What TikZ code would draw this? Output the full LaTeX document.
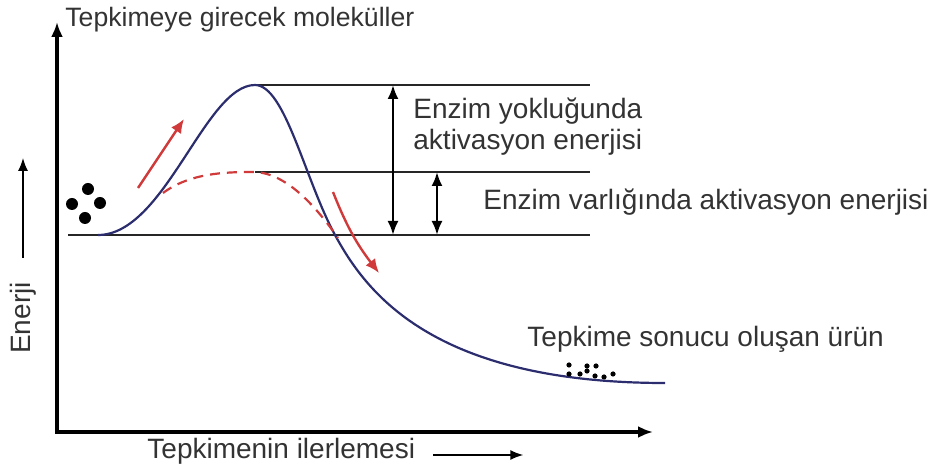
\documentclass[tikz,border=0pt]{standalone}
\usepackage{fontspec}
\setmainfont{Liberation Sans}
\usetikzlibrary{arrows.meta,positioning,calc}

\definecolor{curveblue}{HTML}{2B2D6E}
\definecolor{arrowred}{HTML}{D03A3A}
\definecolor{textgray}{HTML}{333333}

\begin{document}
\begin{tikzpicture}[
    x=0.5pt,
    y=0.5pt,
    axis/.style={
        line width=1.75pt,
        {Latex[length=7.5pt,width=6pt]}-{Latex[length=7.5pt,width=6pt]}
    },
    hint/.style={
        line width=1pt,
        -{Latex[length=6.5pt,width=5pt]}
    },
    level/.style={
        line width=1pt,
        draw=black!85
    },
    energy/.style={
        line width=1.1pt,
        draw=curveblue
    },
    catalysed/.style={
        line width=1.1pt,
        draw=arrowred,
        dash pattern=on 5pt off 3.5pt
    },
    redarrow/.style={
        line width=1.2pt,
        draw=arrowred,
        -{Latex[length=7pt,width=6pt]}
    },
    gap/.style={
        line width=1.2pt,
        {Latex[length=7pt,width=5.5pt]}-{Latex[length=7pt,width=5.5pt]}
    },
    caption/.style={
        anchor=base west,
        inner sep=0pt,
        text=textgray,
        align=left,
        font=\fontsize{14}{15.5}\selectfont
    },
    molecule/.style={
        circle,
        fill=black,
        inner sep=0pt,
        minimum size=6pt
    },
    product/.style={
        circle,
        fill=black,
        inner sep=0pt,
        minimum size=2.6pt
    }
]

\useasboundingbox (0,0) rectangle (940,470);

% --- Axes ---
\coordinate (ytip) at (57,448);
\coordinate (xtip) at (653,38);
\draw[axis] (ytip) |- (xtip);

\node[caption, font=\fontsize{13.3}{15}\selectfont] (reactants) at (65,443) {Tepkimeye girecek moleküller};
\node[caption] (progress) at (147,11) {Tepkimenin ilerlemesi};
\draw[hint] ([xshift=9pt,yshift=2pt]progress.base east) -- ++(90,0);
\node[rotate=90, inner sep=0pt, text=textgray, font=\fontsize{14}{16}\selectfont] (enerji) at (23,152) {Enerji};
\draw[hint] ([yshift=12pt]enerji.east) -- ++(0,100);

% --- Energy levels ---
\coordinate (peak) at (255,385);
\coordinate (lowpeak) at (253,298);
\coordinate (start) at (98,235);
\coordinate (end) at (665,87);
\coordinate (topend) at (590,385);
\coordinate (midstart) at (255,298);
\coordinate (midend) at (590,298);
\coordinate (basestart) at (68,235);
\coordinate (baseend) at (590,235);

\draw[level] (peak) -- (topend);
\draw[level] (midstart) -- (midend);
\draw[level] (basestart) -- (baseend);

% --- Reaction curves ---
\draw[energy] (start) .. controls (165,235) and (205,385) .. (peak)
    .. controls (285,385) and (305,290) .. (335,235)
    .. controls (365,180) and (430,87) .. (end);
\draw[catalysed] (163,277) .. controls (190,297) and (225,298) .. (lowpeak)
    .. controls (285,298) and (315,265) .. (338,232);

\coordinate (up1) at (138,282);
\coordinate (up2) at (184,351);
\coordinate (down1) at (333,278);
\coordinate (down2) at (379,197);
\draw[redarrow] (up1) -- (up2);
\draw[redarrow] (down1) to[bend right=8] (down2);

% --- Activation energy arrows ---
\coordinate (bigtop) at (393,385);
\coordinate (bigbot) at (393,235);
\coordinate (smalltop) at (437,298);
\coordinate (smallbot) at (437,235);
\draw[gap] (bigtop) -- (bigbot);
\draw[gap] (smalltop) -- (smallbot);

\node[caption] (noenzyme) at (413,320) {Enzim yokluğunda\\aktivasyon enerjisi};
\node[caption] (withenzyme) at (483,260) {Enzim varlığında aktivasyon enerjisi};
\node[caption] (productlabel) at (527,123) {Tepkime sonucu oluşan ürün};

% --- Molecules ---
\node[molecule] (m1) at (88,281) {};
\node[molecule] (m2) at (72,266) {};
\node[molecule] (m3) at (100,267) {};
\node[molecule] (m4) at (85,252) {};

\node[product] (p1) at (569,105) {};
\node[product] (p2) at (587,104) {};
\node[product] (p3) at (596,104) {};
\node[product] (p4) at (569,96) {};
\node[product] (p5) at (580,96) {};
\node[product] (p6) at (595,94) {};
\node[product] (p7) at (604,93) {};
\node[product] (p8) at (613,96) {};
\node[product] (p9) at (587,99) {};

\end{tikzpicture}
\end{document}
